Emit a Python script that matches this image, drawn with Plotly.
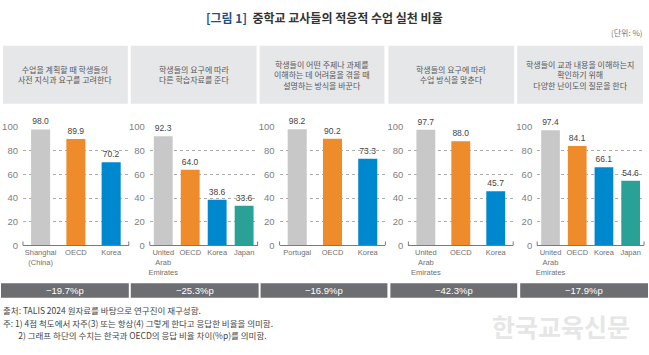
import plotly.graph_objects as go

# ---------------- data ----------------
panel_titles = [
    "수업을 계획할 때 학생들의<br>사전 지식과 요구를 고려한다",
    "학생들의 요구에 따라<br>다른 학습자료를 준다",
    "학생들이 어떤 주제나 과제를<br>이해하는 데 어려움을 겪을 때<br>설명하는 방식을 바꾼다",
    "학생들의 요구에 따라<br>수업 방식을 맞춘다",
    "학생들이 교과 내용을 이해하는지<br>확인하기 위해<br>다양한 난이도의 질문을 한다",
]
cats1 = ["Shanghai<br>(China)", "OECD", "Korea"]
vals1 = [98.0, 89.9, 70.2]
cats2 = ["United<br>Arab<br>Emirates", "OECD", "Korea", "Japan"]
vals2 = [92.3, 64.0, 38.6, 33.6]
cats3 = ["Portugal", "OECD", "Korea"]
vals3 = [98.2, 90.2, 73.3]
cats4 = ["United<br>Arab<br>Emirates", "OECD", "Korea"]
vals4 = [97.7, 88.0, 45.7]
cats5 = ["United<br>Arab<br>Emirates", "OECD", "Korea", "Japan"]
vals5 = [97.4, 84.1, 66.1, 54.6]
diff_labels = ["−19.7%p", "−25.3%p", "−16.9%p", "−42.3%p", "−17.9%p"]
y_ticks = [0, 20, 40, 60, 80, 100]

title_main = "중학교 교사들의 적응적 수업 실천 비율"
notes = [
    "출처: TALIS 2024 원자료를 바탕으로 연구진이 재구성함.",
    "주: 1) 4점 척도에서 자주(3) 또는 항상(4) 그렇게 한다고 응답한 비율을 의미함.",
    "        2) 그래프 하단의 수치는 한국과 OECD의 응답 비율 차이(%p)를 의미함.",
]

# ---------------- style ----------------
W, H = 649, 355
KR = "Noto Sans CJK KR"
NARROW = "Liberation Sans Narrow, Arial Narrow, Liberation Sans, sans-serif"
color_map = {"OECD": "#EE8B2B", "Korea": "#0088CF", "Japan": "#2AA197"}
OTHER = "#C8C8C8"

def px_x(p):
    return p / W

def px_y(p):
    return 1 - p / H

panels = [(cats1, vals1), (cats2, vals2), (cats3, vals3), (cats4, vals4), (cats5, vals5)]
x_domains_px = [(22, 128), (149, 257), (279, 385), (408, 513), (537, 644)]
header_px = [(2, 127), (130, 256), (259, 384), (388, 514), (517, 643)]
bottom_px = [(0, 128), (130, 258), (260, 387), (390, 517), (520, 648)]
y_dom = [px_y(247), px_y(125)]

fig = go.Figure()
shapes = []
annotations = []

for i, (cats, vals) in enumerate(panels):
    k = "" if i == 0 else str(i + 1)
    colors = [color_map.get(c, OTHER) for c in cats]
    width = 0.54 if len(cats) == 3 else 0.70
    fig.add_trace(go.Bar(
        x=cats, y=vals, xaxis="x" + k, yaxis="y" + k,
        marker=dict(color=colors, line=dict(width=0)),
        width=width,
        text=[f"{v:.1f}" for v in vals], textposition="outside",
        textfont=dict(family=NARROW, size=8.5, color="#444444"),
        constraintext="none", cliponaxis=False, showlegend=False,
        hoverinfo="x+y",
    ))
    x0, x1 = x_domains_px[i]
    fig.layout["xaxis" + k] = dict(
        domain=[px_x(x0), px_x(x1)], anchor="y" + k,
        showline=True, linecolor="#7a7a7a", linewidth=1,
        showgrid=False, ticks="", fixedrange=True, tickangle=0,
        tickfont=dict(family=NARROW, size=7.5, color="#707070"),
    )
    fig.layout["yaxis" + k] = dict(
        domain=y_dom, anchor="x" + k, range=[0, 100],
        tickvals=y_ticks, showline=False, zeroline=False,
        showgrid=True, gridcolor="#ababab", griddash="dot", gridwidth=1,
        tickfont=dict(family=NARROW, size=9.5, color="#808080"),
        ticklabelstandoff=4, fixedrange=True,
    )
    # small upturned ends of the baseline
    for xe in (0, 1):
        shapes.append(dict(type="line", xref="x" + k + " domain", yref="paper",
                           x0=xe, x1=xe, y0=y_dom[0], y1=y_dom[0] + 4 / H,
                           line=dict(color="#7a7a7a", width=1)))
    # header box
    hx0, hx1 = header_px[i]
    shapes.append(dict(type="rect", xref="paper", yref="paper",
                       x0=px_x(hx0), x1=px_x(hx1), y0=px_y(101), y1=px_y(41),
                       fillcolor="#E6E7E8", line=dict(width=0), layer="below"))
    annotations.append(dict(xref="paper", yref="paper",
                            x=(px_x(hx0) + px_x(hx1)) / 2, y=px_y(71),
                            text=panel_titles[i], showarrow=False,
                            xanchor="center", yanchor="middle", align="center",
                            font=dict(family=KR, size=8, color="#58595B")))
    # bottom difference box
    bx0, bx1 = bottom_px[i]
    shapes.append(dict(type="rect", xref="paper", yref="paper",
                       x0=px_x(bx0), x1=px_x(bx1), y0=px_y(301), y1=px_y(286),
                       fillcolor="#6D6E71", line=dict(width=0)))
    annotations.append(dict(xref="paper", yref="paper",
                            x=(px_x(bx0) + px_x(bx1)) / 2, y=px_y(293.5),
                            text=diff_labels[i], showarrow=False,
                            xanchor="center", yanchor="middle",
                            font=dict(family=NARROW, size=9.5, color="#FFFFFF")))

# title
annotations.append(dict(xref="paper", yref="paper", x=px_x(324), y=px_y(12),
                        text="<b><span style='color:#1F5282'>[그림 1]</span>  " + title_main + "</b>",
                        showarrow=False, xanchor="center", yanchor="middle",
                        font=dict(family=KR, size=12, color="#333333")))
annotations.append(dict(xref="paper", yref="paper", x=px_x(645), y=px_y(27),
                        text="(단위: %)", showarrow=False, xanchor="right", yanchor="middle",
                        font=dict(family=KR, size=8, color="#777777")))
# watermark
annotations.append(dict(xref="paper", yref="paper", x=px_x(561), y=px_y(330),
                        text="<b>한국교육신문</b>", showarrow=False, xanchor="center", yanchor="middle",
                        font=dict(family=KR, size=25, color="#E6E6E6")))
# notes
for j, (t, yy) in enumerate(zip(notes, [314, 327, 340])):
    annotations.append(dict(xref="paper", yref="paper", x=0, y=px_y(yy),
                            text=t, showarrow=False, xanchor="left", yanchor="middle",
                            font=dict(family=KR, size=8.5, color="#444444")))

fig.update_layout(
    width=W, height=H, margin=dict(l=0, r=0, t=0, b=0),
    paper_bgcolor="#FFFFFF", plot_bgcolor="rgba(0,0,0,0)",
    shapes=shapes, annotations=annotations, bargap=0.3,
    font=dict(family=KR),
)

fig.write_html("out.html", config={"displayModeBar": False},
               post_script="document.body.style.margin='0';")
